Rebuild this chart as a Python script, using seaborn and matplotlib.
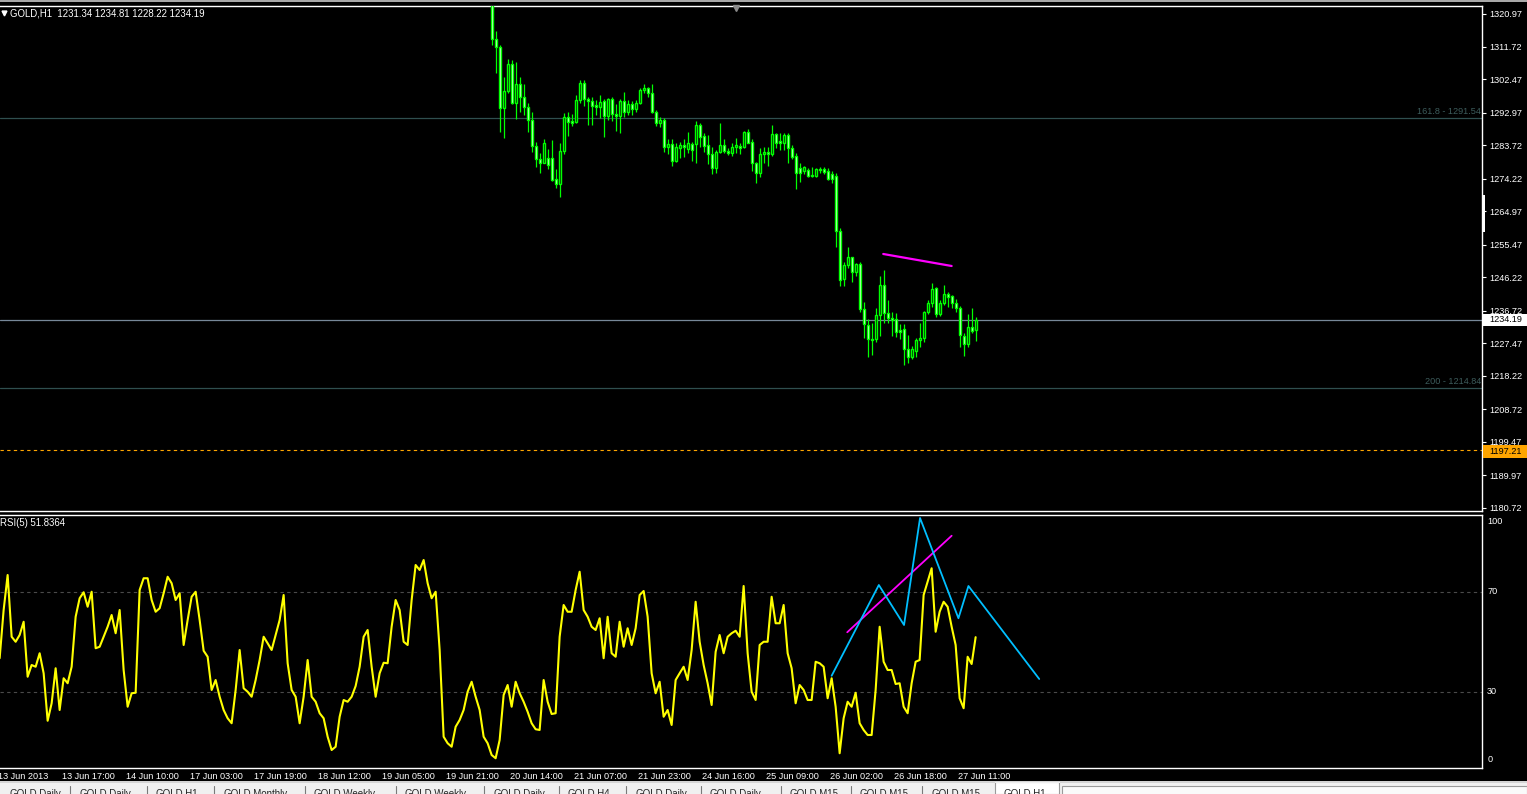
import numpy as np
import matplotlib
matplotlib.use("Agg")
import matplotlib.pyplot as plt
from matplotlib.patches import Rectangle
from matplotlib.lines import Line2D
import seaborn as sns

# ---------------- data ----------------
symbol_header = "GOLD,H1  1231.34 1234.81 1228.22 1234.19"
rsi_header = "RSI(5) 51.8364"

first_candle_bar = 124
candle_open = [
    1330.0, 1313.8, 1311.5, 1294.2, 1299.1, 1306.7, 1295.8, 1301.0, 1297.5, 1294.5,
    1290.9, 1283.6, 1279.7, 1278.6, 1280.0, 1280.0, 1274.0, 1272.7, 1282.1, 1291.8,
    1290.6, 1290.4, 1296.5, 1301.3, 1296.7, 1296.3, 1295.0, 1294.5, 1296.3, 1292.1,
    1296.7, 1292.7, 1292.1, 1296.3, 1293.2, 1295.4, 1293.9, 1295.8, 1299.4, 1299.9,
    1298.4, 1293.2, 1290.1, 1291.0, 1283.3, 1284.1, 1279.3, 1283.0, 1283.8, 1282.5,
    1284.0, 1284.0, 1289.5, 1286.3, 1283.8, 1281.2, 1277.2, 1281.7, 1283.8, 1282.2,
    1281.6, 1283.1, 1283.5, 1283.3, 1287.6, 1284.7, 1278.6, 1275.9, 1281.1, 1281.8,
    1281.1, 1286.8, 1284.9, 1284.4, 1286.6, 1282.8, 1280.7, 1277.2, 1276.4, 1276.7,
    1275.3, 1275.0, 1277.0, 1276.9, 1276.5, 1275.5, 1275.1, 1259.4, 1245.6, 1249.7,
    1251.9, 1247.8, 1250.0, 1237.1, 1232.7, 1228.7, 1228.7, 1235.5, 1244.0, 1236.2,
    1234.6, 1234.3, 1231.3, 1231.4, 1225.8, 1223.7, 1225.4, 1228.4, 1228.9, 1236.5,
    1239.0, 1243.1, 1235.8, 1239.0, 1241.5, 1240.9, 1238.8, 1237.4, 1229.5, 1227.2,
    1232.0, 1231.34]
candle_high = [
    1331.0, 1316.0, 1312.2, 1303.0, 1308.1, 1307.9, 1307.2, 1303.2, 1301.0, 1295.6,
    1293.2, 1284.7, 1281.4, 1285.4, 1282.5, 1285.2, 1277.1, 1284.2, 1292.8, 1293.2,
    1292.5, 1298.0, 1302.2, 1302.2, 1297.5, 1297.3, 1296.5, 1298.0, 1296.7, 1297.2,
    1297.5, 1295.4, 1296.7, 1298.8, 1296.5, 1296.3, 1296.5, 1299.9, 1301.1, 1300.2,
    1301.1, 1293.7, 1291.8, 1291.3, 1285.4, 1285.4, 1284.2, 1284.7, 1285.4, 1287.6,
    1284.7, 1290.6, 1289.9, 1287.1, 1286.6, 1283.3, 1282.4, 1290.1, 1285.4, 1283.0,
    1284.2, 1285.7, 1284.4, 1287.8, 1288.2, 1285.4, 1279.0, 1282.8, 1283.3, 1283.3,
    1289.5, 1287.3, 1287.3, 1287.3, 1287.3, 1283.8, 1281.4, 1278.8, 1277.8, 1277.2,
    1277.6, 1277.2, 1277.6, 1277.6, 1277.2, 1276.4, 1275.7, 1260.1, 1250.6, 1254.7,
    1252.1, 1250.2, 1250.6, 1239.3, 1234.3, 1233.1, 1237.4, 1246.6, 1248.3, 1239.9,
    1236.5, 1236.0, 1233.0, 1233.0, 1229.8, 1226.7, 1228.9, 1233.1, 1236.7, 1239.8,
    1244.7, 1243.5, 1239.8, 1244.0, 1241.9, 1241.2, 1240.0, 1238.1, 1230.5, 1235.8,
    1237.4, 1234.81]
candle_low = [
    1312.2, 1304.1, 1287.6, 1285.7, 1298.6, 1295.4, 1291.1, 1293.2, 1292.3, 1287.6,
    1281.9, 1277.6, 1275.9, 1278.6, 1277.1, 1273.5, 1271.5, 1269.1, 1281.2, 1286.3,
    1289.2, 1290.1, 1295.6, 1294.8, 1289.4, 1289.4, 1292.3, 1291.3, 1286.1, 1290.9,
    1290.7, 1287.8, 1287.3, 1291.8, 1292.3, 1292.3, 1293.2, 1295.5, 1298.4, 1297.5,
    1292.8, 1289.2, 1289.0, 1281.9, 1281.2, 1277.8, 1279.0, 1280.0, 1280.5, 1281.4,
    1279.3, 1278.8, 1283.3, 1281.9, 1278.4, 1275.5, 1275.9, 1281.4, 1281.4, 1280.9,
    1280.6, 1281.6, 1281.2, 1282.8, 1284.2, 1276.5, 1273.1, 1274.8, 1278.8, 1277.8,
    1280.6, 1282.8, 1282.4, 1282.4, 1278.8, 1279.7, 1271.2, 1273.4, 1275.5, 1274.6,
    1274.6, 1274.8, 1275.7, 1275.5, 1273.8, 1272.9, 1254.9, 1243.6, 1243.7, 1248.8,
    1245.0, 1246.6, 1236.5, 1228.9, 1223.7, 1224.2, 1227.7, 1229.5, 1233.1, 1233.3,
    1229.5, 1229.4, 1228.6, 1221.3, 1222.0, 1222.9, 1223.7, 1226.5, 1227.7, 1235.8,
    1237.9, 1234.8, 1235.2, 1238.4, 1237.7, 1237.4, 1236.5, 1226.3, 1223.9, 1226.3,
    1230.5, 1228.22]
candle_close = [
    1313.8, 1311.5, 1294.2, 1299.1, 1306.7, 1295.8, 1301.0, 1297.5, 1294.5, 1290.9,
    1283.6, 1279.7, 1278.6, 1284.2, 1278.1, 1273.8, 1272.7, 1282.1, 1291.8, 1290.4,
    1290.1, 1296.5, 1301.3, 1296.7, 1296.3, 1294.8, 1294.5, 1296.1, 1292.1, 1296.7,
    1292.7, 1292.1, 1296.3, 1293.2, 1295.4, 1293.9, 1295.8, 1299.4, 1299.9, 1298.4,
    1293.2, 1290.1, 1291.0, 1283.3, 1284.1, 1279.3, 1283.3, 1283.8, 1283.3, 1284.2,
    1282.4, 1289.5, 1286.1, 1283.5, 1281.2, 1277.2, 1281.7, 1283.8, 1282.2, 1281.6,
    1283.1, 1283.8, 1283.0, 1287.6, 1284.4, 1278.6, 1275.9, 1281.1, 1281.7, 1281.1,
    1286.8, 1284.4, 1284.4, 1286.6, 1282.8, 1280.5, 1275.9, 1275.7, 1277.4, 1275.0,
    1275.0, 1276.9, 1276.7, 1276.2, 1274.1, 1274.2, 1259.4, 1245.4, 1249.7, 1252.1,
    1247.8, 1250.0, 1237.1, 1233.0, 1228.6, 1228.4, 1235.5, 1244.0, 1236.2, 1234.6,
    1234.1, 1230.8, 1230.8, 1225.8, 1223.7, 1225.8, 1228.4, 1228.9, 1236.5, 1239.0,
    1242.8, 1235.8, 1238.8, 1241.5, 1240.7, 1238.8, 1237.4, 1229.8, 1227.2, 1232.0,
    1231.1, 1234.19]

first_rsi_bar = 1
rsi_values = [
    43.4, 62.7, 76.7, 52, 50, 52.7, 58, 36, 40.7, 40,
    45.4, 37.4, 18.4, 25.4, 39.4, 22.7, 35.4, 33.4, 40, 60,
    67.4, 69.8, 64, 70, 47.4, 48, 52, 56, 60.7, 53.4,
    62.7, 38.7, 24, 29.4, 29.6, 70.7, 75.4, 75.4, 66.7, 62,
    63.4, 69.4, 76, 73.4, 66.7, 69.4, 48.7, 58.7, 68, 70,
    58.7, 46.4, 44, 30.7, 34.7, 28, 22.7, 19.4, 17.4, 30.7,
    46.7, 31.4, 30, 28, 34.7, 42.7, 52, 49.4, 46.7, 52.7,
    58.7, 68.7, 41.4, 30.7, 28, 17.4, 28, 42.7, 28, 26,
    21.4, 19.4, 12, 6.7, 8, 20, 26.7, 26, 28, 32.3,
    40, 52, 54.7, 40, 28, 37.4, 41.6, 41.4, 56, 66.7,
    62.7, 50, 48.7, 66.7, 80.7, 78.7, 82.7, 73.4, 67.4, 70,
    46.7, 12, 9.4, 8, 16, 18.7, 22.7, 30, 34, 28,
    22.7, 12, 9.4, 4.7, 3.4,
    10.7, 28.7, 32.7, 24, 34, 29.4, 26, 22, 17.4, 15,
    14.7, 34.7, 26, 21.1, 21.4, 52, 64.7, 62, 62, 70.7,
    78, 62.7, 60, 56, 54.7, 59.4, 43.4, 60, 45.4, 44,
    58, 48, 55.4, 48.7, 55.4, 68.7, 70.3, 60, 37.4, 29.4,
    34, 20, 22.7, 16.7, 34.7, 37.4, 40, 34.7, 46.7, 66,
    50, 40.7, 33.4, 24.7, 46, 52.7, 45.4, 52, 53.4, 54.4,
    52, 72.3, 45.4, 30, 26.7, 48.7, 50, 50, 68, 57.4,
    57.4, 64.7, 45.4, 39.4, 25.4, 32.7, 30.7, 26.7, 26.7, 42,
    41.4, 40, 27.4, 35.4, 24, 5.4, 19.4, 26, 24, 29.6,
    17.4, 14.7, 12.7, 12.7, 30.7, 56, 42, 38.7, 38.7, 33.1,
    33.4, 24, 21.4, 33.4, 42, 42.7, 68.7, 74, 79.4, 54,
    62, 66, 64, 56, 48.7, 27.4, 23.4, 44, 41.1, 51.8364]

price_ticks = [1320.97, 1311.72, 1302.47, 1292.97, 1283.72, 1274.22, 1264.97, 1255.47,
               1246.22, 1236.72, 1227.47, 1218.22, 1208.72, 1199.47, 1189.97, 1180.72]
rsi_tick_labels = ["100", "70", "30", "0"]
rsi_levels = [70, 30]

time_label_bars = [0, 16, 32, 48, 64, 80, 96, 112, 128, 144, 160, 176, 192, 208, 224, 240]
time_labels = ["13 Jun 2013", "13 Jun 17:00", "14 Jun 10:00", "17 Jun 03:00", "17 Jun 19:00",
               "18 Jun 12:00", "19 Jun 05:00", "19 Jun 21:00", "20 Jun 14:00", "21 Jun 07:00",
               "21 Jun 23:00", "24 Jun 16:00", "25 Jun 09:00", "26 Jun 02:00", "26 Jun 18:00",
               "27 Jun 11:00"]

fib_names = ["161.8", "200"]
fib_levels = [1291.54, 1214.84]
bid_price = 1234.19
alert_price = 1197.21

price_trend_bars = [221.9, 239.0]
price_trend_vals = [1252.83, 1249.42]
rsi_trend_bars = [212.9, 239.0]
rsi_trend_vals = [53.8, 92.4]
rsi_zigzag_bars = [209.0, 220.8, 227.1, 231.1, 240.7, 243.2, 260.9]
rsi_zigzag_vals = [36.4, 72.7, 56.7, 99.5, 59.4, 72.3, 35.1]

tab_names = ["GOLD,Daily", "GOLD,Daily", "GOLD,H1", "GOLD,Monthly", "GOLD,Weekly", "GOLD,Weekly",
             "GOLD,Daily", "GOLD,H4", "GOLD,Daily", "GOLD,Daily", "GOLD,M15", "GOLD,M15",
             "GOLD,M15", "GOLD,H1"]

# ---------------- style ----------------
sns.set_style("dark", {"axes.facecolor": "black", "figure.facecolor": "black"})
plt.rcParams["font.family"] = ["Liberation Sans", "DejaVu Sans"]

W, H = 1527, 794
fig = plt.figure(figsize=(W / 100, H / 100), dpi=100, facecolor="black")


def fx(px):
    return px / W


def fy(py):
    return 1 - py / H


ax = fig.add_axes([0, fy(510.5), fx(1482), (510.5 - 5.5) / H])
ax_rsi = fig.add_axes([0, fy(767.5), fx(1482), (767.5 - 515) / H], sharex=ax)

LIME = "#00ff00"
FS = 6.6

# ---------------- price panel ----------------
bars = np.arange(first_candle_bar, first_candle_bar + len(candle_open))
o = np.array(candle_open)
c = np.array(candle_close)
ax.vlines(bars, candle_low, candle_high, color=LIME, lw=0.9, zorder=3)
body_colors = np.where(c > o, "black", "white")
ax.bar(bars, c - o, bottom=o, width=0.5, color=body_colors, edgecolor=LIME,
       linewidth=1.0, zorder=4)

for name, lvl in zip(fib_names, fib_levels):
    ax.axhline(lvl, color="#2f4f4f", lw=0.9, zorder=1)
    ax.text(0.9993, lvl + 0.4, f"{name} - {lvl:.2f}", transform=ax.get_yaxis_transform(),
            ha="right", va="bottom", color="#3d5c5c", fontsize=FS)
ax.axhline(bid_price, color="#778899", lw=0.9, zorder=1)
ax.axhline(alert_price, color="#ffa500", lw=0.8, ls=(0, (3, 3)), zorder=1)

sns.lineplot(x=price_trend_bars, y=price_trend_vals, ax=ax, color="#ff00ff", lw=1.6, zorder=5)

ax.set_xlim(1.09, 371.59)
ax.set_ylim(1180.0, 1323.38)
ax.yaxis.tick_right()
ax.set_yticks(price_ticks)
ax.set_yticklabels([f"{t:.2f}" for t in price_ticks])
ax.tick_params(axis="y", colors="white", length=3, width=0.8, pad=2, labelsize=FS)
ax.tick_params(axis="x", bottom=False, labelbottom=False)
ax.set_xlabel("")
ax.set_ylabel("")

# ---------------- RSI panel ----------------
rsi_bars = np.arange(first_rsi_bar, first_rsi_bar + len(rsi_values))
for lvl in rsi_levels:
    ax_rsi.axhline(lvl, color="#4a4a4a", lw=0.8, ls=(0, (3, 3)), zorder=1)
sns.lineplot(x=rsi_bars, y=rsi_values, ax=ax_rsi, color="#ffff00", lw=1.5, zorder=4)
sns.lineplot(x=rsi_trend_bars, y=rsi_trend_vals, ax=ax_rsi, color="#ff00ff", lw=1.3, zorder=5)
sns.lineplot(x=rsi_zigzag_bars, y=rsi_zigzag_vals, ax=ax_rsi, color="#00bfff", lw=1.3,
             sort=False, zorder=5)
ax_rsi.set_ylim(-0.3, 100.7)
ax_rsi.set_yticks([])
ax_rsi.set_xlabel("")
ax_rsi.set_ylabel("")
for lab, pos in zip(rsi_tick_labels, [98, 70, 30, 2.7]):
    ax_rsi.text(1.0035, pos, lab, transform=ax_rsi.get_yaxis_transform(), ha="left",
                va="center", color="white", fontsize=FS, clip_on=False)

ax_rsi.set_xticks(time_label_bars)
ax_rsi.tick_params(axis="x", colors="white", length=4, width=0.8, labelbottom=False)
for b, lab in zip(time_label_bars, time_labels):
    ax_rsi.text(b + 0.6, -0.034, lab, transform=ax_rsi.get_xaxis_transform(), ha="left",
                va="center", color="white", fontsize=FS, clip_on=False)
ax_rsi.set_xlim(1.09, 371.59)

for a in (ax, ax_rsi):
    a.set_facecolor("black")
    a.grid(False)
    a.spines["left"].set_visible(False)
    for s in ("top", "right", "bottom"):
        a.spines[s].set_visible(True)
        a.spines[s].set_color("white")
        a.spines[s].set_linewidth(1.0)

# ---------------- headers and labels ----------------
fig.add_artist(Rectangle((0, fy(2)), 1, 2 / H, transform=fig.transFigure,
                         facecolor="#a8a8a8", edgecolor="none"))
fig.text(fx(10), fy(13), symbol_header, color="white", fontsize=FS + 0.3, va="center")
fig.add_artist(Line2D([fx(3.5)], [fy(12.5)], marker="v", markersize=3.5, color="white",
                      transform=fig.transFigure))
fig.add_artist(Line2D([fx(736)], [fy(8)], marker="v", markersize=5, color="#8a8a8a",
                      transform=fig.transFigure))
fig.text(fx(0), fy(523), rsi_header, color="white", fontsize=FS + 0.3, va="center")

fig.add_artist(Rectangle((fx(1481.5), fy(232)), 3.5 / W, 37 / H, transform=fig.transFigure,
                         facecolor="white", edgecolor="none"))

fig.add_artist(Rectangle((fx(1483), fy(326.5)), 44 / W, 13 / H, transform=fig.transFigure,
                         facecolor="white", edgecolor="none", zorder=5))
fig.text(fx(1489), fy(320), f"{bid_price:.2f}", color="black", fontsize=FS, va="center", zorder=6)
fig.add_artist(Rectangle((fx(1483), fy(457.5)), 44 / W, 13 / H, transform=fig.transFigure,
                         facecolor="#ffa500", edgecolor="none", zorder=5))
fig.text(fx(1489), fy(451), f"{alert_price:.2f}", color="black", fontsize=FS, va="center", zorder=6)

# ---------------- bottom tab bar ----------------
fig.add_artist(Line2D([0, 1], [fy(781.5), fy(781.5)], color="white", lw=1.2,
                      transform=fig.transFigure))
fig.add_artist(Rectangle((0, 0), 1, 11 / H, transform=fig.transFigure,
                         facecolor="#f0f0f0", edgecolor="none"))
tab_edges = [0, 70, 147, 214, 305, 396, 484, 559, 626, 701, 781, 851, 922, 995, 1059]
fig.add_artist(Rectangle((fx(995), 0), 64 / W, 12 / H, transform=fig.transFigure,
                         facecolor="white", edgecolor="#9a9a9a", lw=0.8))
fig.add_artist(Rectangle((fx(1062), -0.01), 465 / W, 8.5 / H + 0.01, transform=fig.transFigure,
                         facecolor="#fafafa", edgecolor="#9a9a9a", lw=0.8))
for k, name in enumerate(tab_names):
    left = tab_edges[k]
    if 0 < k < len(tab_names) - 1:
        fig.add_artist(Line2D([fx(left), fx(left)], [0, 8 / H], color="#7a7a7a", lw=0.8,
                              transform=fig.transFigure))
    fig.text(fx(left + 9), fy(789), name, color="#222222", fontsize=7, va="top")

fig.savefig("out.png", dpi=100, facecolor="black")
